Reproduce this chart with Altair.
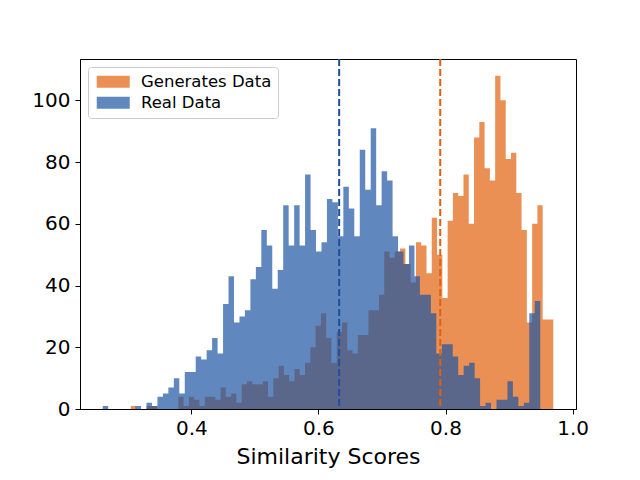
import altair as alt
import pandas as pd

# ---- data ----
series_names = ["Generates Data", "Real Data"]
gen_counts = [1, 0, 0, 1, 1, 0, 0, 0, 0, 4,
              1, 4, 3, 1, 4, 4, 3, 7, 4, 5,
              2, 8, 9, 8, 8, 9, 4, 10, 14, 11,
              9, 13, 11, 15, 20, 27, 31, 23, 15, 25,
              28, 19, 18, 24, 24, 32, 32, 37, 51, 49,
              51, 52, 47, 41, 54, 53, 44, 62, 50, 36,
              61, 70, 69, 76, 60, 88, 93, 78, 74, 108,
              100, 81, 83, 70, 58, 28, 60, 66, 29, 29]
real_counts = [1, 0, 0, 0, 0, 0, 1, 0, 2, 1,
               4, 5, 7, 10, 5, 12, 12, 17, 16, 19,
               23, 18, 34, 43, 28, 30, 32, 42, 46, 58,
               53, 39, 45, 66, 53, 66, 53, 76, 58, 51,
               54, 68, 67, 56, 72, 65, 56, 84, 71, 91,
               66, 77, 74, 56, 51, 47, 53, 43, 37, 37,
               31, 18, 21, 21, 17, 11, 14, 15, 10, 1,
               2, 0, 3, 3, 9, 4, 1, 2, 31, 35]
gen_range = [0.3046, 0.9696]
real_range = [0.2605, 0.9491]
gen_mean = [0.7917]
real_mean = [0.6326]
x_ticks = [0.4, 0.6, 0.8, 1.0]
y_ticks = [0, 20, 40, 60, 80, 100]

ORANGE = "#e2610d"
BLUE = "#1c55a3"
ORANGE_LINE = "#e0600e"
BLUE_LINE = "#1f4e9e"
FONT = "DejaVu Sans"


def step_rows(counts, rng, name):
    # histogram outline: one point per bin edge (step-after), closing at the last edge
    n = len(counts)
    w = (rng[1] - rng[0]) / n
    rows = [{"edge": rng[0] + i * w, "count": c, "series": name}
            for i, c in enumerate(counts)]
    rows.append({"edge": rng[1], "count": counts[-1], "series": name})
    return rows


df = pd.DataFrame(step_rows(gen_counts, gen_range, series_names[0])
                  + step_rows(real_counts, real_range, series_names[1]))

xscale = alt.Scale(domain=[0.2247, 1.0054], nice=False, zero=False)
yscale = alt.Scale(domain=[0, 113.4], nice=False, zero=True)

x_axis = alt.Axis(values=x_ticks, format=".1f", title="Similarity Scores", grid=False,
                  tickSize=5, tickColor="black", tickWidth=1, domainColor="black",
                  labelFont=FONT, labelFontSize=20, labelColor="black", labelPadding=4,
                  titleFont=FONT, titleFontSize=22, titleFontWeight="normal",
                  titleColor="black", titlePadding=8)
y_axis = alt.Axis(values=y_ticks, title=None, grid=False, tickSize=5, tickColor="black",
                  tickWidth=1, domainColor="black", labelFont=FONT, labelFontSize=20,
                  labelColor="black", labelPadding=5, minExtent=50, maxExtent=50)

legend = alt.Legend(title=None, orient="none", legendX=8, legendY=8,
                    symbolType="M-1,-1H4.5V1H-1Z", symbolSize=144, symbolOpacity=0.7,
                    symbolStrokeWidth=0, labelFont=FONT, labelFontSize=16.5,
                    labelColor="black", labelOffset=30, padding=6.5, rowPadding=4,
                    strokeColor="#cccccc", cornerRadius=3, fillColor="white")

color = alt.Color("series:N", scale=alt.Scale(domain=series_names, range=[ORANGE, BLUE]),
                  legend=legend)


def hist(name):
    return (alt.Chart(df)
            .transform_filter(alt.datum.series == name)
            .mark_area(interpolate="step-after", opacity=0.7)
            .encode(x=alt.X("edge:Q", scale=xscale, axis=x_axis),
                    y=alt.Y("count:Q", scale=yscale, axis=y_axis, stack=None),
                    color=color))


def mean_rule(vals, col):
    return (alt.Chart(pd.DataFrame({"mean": vals}))
            .mark_rule(color=col, strokeDash=[7, 3], strokeWidth=2)
            .encode(x=alt.X("mean:Q", scale=xscale)))


chart = (alt.layer(hist(series_names[0]), hist(series_names[1]),
                   mean_rule(real_mean, BLUE_LINE), mean_rule(gen_mean, ORANGE_LINE))
         .properties(width=496, height=350,
                     padding={"left": 22, "top": 50, "right": 5, "bottom": 5},
                     background="white")
         .configure_view(stroke="black", strokeWidth=1))

chart.save("out.html", embed_options={"renderer": "svg", "actions": False})
